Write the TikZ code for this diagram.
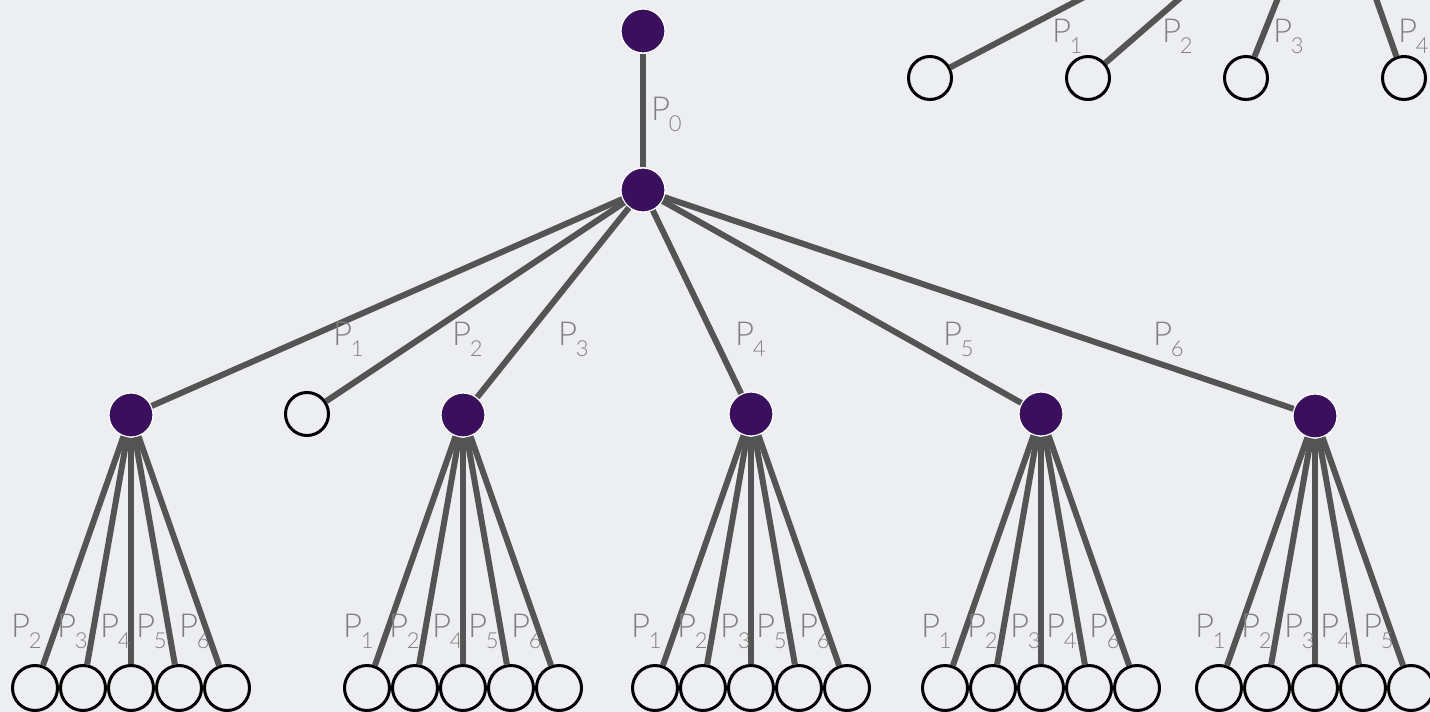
\documentclass[tikz,border=0pt]{standalone}
\usepackage{fontspec}
\newfontfamily\labfont{Lato Light}
\usetikzlibrary{calc}
\definecolor{bg}{RGB}{237,238,242}
\definecolor{knot}{RGB}{58,16,94}
\definecolor{edgegray}{RGB}{84,84,84}
\definecolor{labgray}{RGB}{128,128,130}
% P with a lowered index
\newcommand\plab[1]{P\kern-1.5pt\raisebox{-11pt}{\fontsize{22}{22}\selectfont #1}}
\tikzset{
  full/.style={circle, inner sep=0pt, minimum size=44pt, fill=knot, draw=white, line width=1.2pt},
  leaf/.style={circle, inner sep=0pt, minimum size=#1, draw=black, line width=3pt},
  leaf/.default=45pt,
  branch/.style={draw=edgegray, line width=6pt},
  plabel/.style={inner sep=0pt, text=labgray, font=\labfont\fontsize{33}{36}\selectfont, anchor=base west},
}
\begin{document}
\begin{tikzpicture}[x=1pt,y=-1pt]
\fill[bg] (0,0) rectangle (1430,712);
\useasboundingbox (0,0) rectangle (1430,712);
\clip (0,0) rectangle (1430,712);

% root and its single branch
\node[full] (r0) at (643,31) {};
\node[full] (r) at (643,190) {};
\draw[branch] (r0) -- (r);
\node[plabel] (l0) at (651,120) {\plab{0}};

% second level
\node[full] (a) at (131,415) {};
\node[leaf=43pt] (b) at (307,414) {};
\node[full] (c) at (463,415) {};
\node[full] (d) at (751,414) {};
\node[full] (e) at (1041,414) {};
\node[full] (f) at (1315,416) {};
\foreach \q in {a,b,c,d,e,f} \draw[branch] (r) -- (\q);
\foreach \i/\lx in {1/333, 2/452, 3/558, 4/735, 5/943, 6/1153}
  \node[plabel] (m\i) at (\lx,345) {\plab{\i}};

% third level: five leaves under each filled node
\foreach \p/\px/\la/\lb/\lc/\ld/\le in {a/131/2/3/4/5/6, c/463/1/2/4/5/6, d/751/1/2/3/5/6, e/1041/1/2/3/4/6, f/1315/1/2/3/4/5} {
  \foreach \k/\dx/\off/\lab in {1/-96/-24/\la, 2/-48/-26/\lb, 3/0/-31/\lc, 4/48/-43/\ld, 5/96/-48/\le} {
    \node[leaf] (\p\k) at (\px+\dx,688) {};
    \draw[branch] (\p) -- (\p\k);
    \node[plabel] (\p\k-lab) at (\px+\dx+\off,637) {\plab{\lab}};
  }
}

% partial fan at the upper right
\coordinate (t) at (1330,-132);
\foreach \i/\cx/\lx in {1/930/1052, 2/1088/1162, 3/1246/1273, 4/1404/1398} {
  \node[leaf=43pt] (t\i) at (\cx,78) {};
  \draw[branch] (t) -- (t\i);
  \node[plabel] (t\i-lab) at (\lx,42) {\plab{\i}};
}
\end{tikzpicture}
\end{document}
